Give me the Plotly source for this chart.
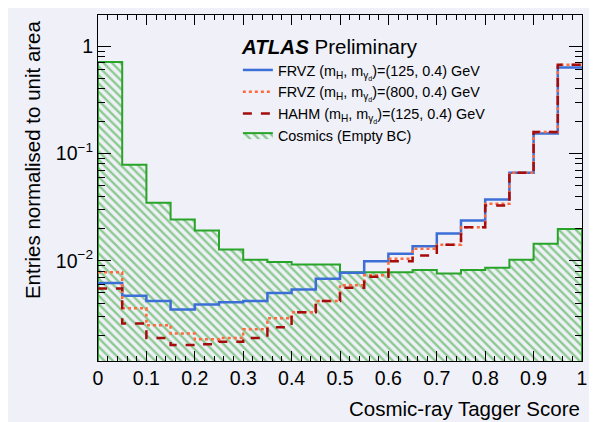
import plotly.graph_objects as go

# ---- data ----
bin_edges = [round(i * 0.05, 2) for i in range(21)]

cosmics = [0.71, 0.0784, 0.0346, 0.0242, 0.0191, 0.0127, 0.0102, 0.0097, 0.0092, 0.0092,
           0.0078, 0.0078, 0.0078, 0.0082, 0.0076, 0.0082, 0.0086, 0.0102, 0.0144, 0.0197]
frvz125 = [0.0062, 0.0047, 0.0042, 0.0035, 0.0039, 0.0041, 0.0042, 0.0050, 0.0054, 0.0068,
           0.0077, 0.0099, 0.0116, 0.0136, 0.0179, 0.0237, 0.0372, 0.0661, 0.153, 0.632]
frvz800 = [0.0078, 0.0036, 0.0025, 0.0021, 0.00185, 0.0019, 0.0023, 0.0029, 0.0033, 0.0042,
           0.0059, 0.0073, 0.0104, 0.0129, 0.0141, 0.0205, 0.0339, 0.0661, 0.158, 0.669]
hahm125 = [0.0055, 0.0026, 0.0019, 0.00164, 0.00166, 0.00176, 0.0019, 0.0024, 0.0033, 0.0042,
           0.0056, 0.0071, 0.0099, 0.0112, 0.0141, 0.0205, 0.0327, 0.0661, 0.158, 0.669]

names = [
    "FRVZ (m<sub>H</sub>, m<sub>γ<sub>d</sub></sub>)=(125, 0.4) GeV",
    "FRVZ (m<sub>H</sub>, m<sub>γ<sub>d</sub></sub>)=(800, 0.4) GeV",
    "HAHM (m<sub>H</sub>, m<sub>γ<sub>d</sub></sub>)=(125, 0.4) GeV",
    "Cosmics (Empty BC)",
]

x_tick_vals = [0, 0.1, 0.2, 0.3, 0.4, 0.5, 0.6, 0.7, 0.8, 0.9, 1]
x_tick_text = ["0", "0.1", "0.2", "0.3", "0.4", "0.5", "0.6", "0.7", "0.8", "0.9", "1"]
y_tick_vals = [0.01, 0.1, 1]
y_tick_text = ["10<sup>−2</sup>", "10<sup>−1</sup>", "1"]

# ---- style ----
FONT = "Liberation Sans, Arial, sans-serif"
BG = "#eff0f8"
GREEN = "#28a428"
BLUE = "#3c6fd6"
ORANGE = "#ff6b3f"
DARKRED = "#a50d0d"
Y_RANGE = [-2.935, 0.29]


def step_xy(values):
    return list(bin_edges), list(values) + [values[-1]]


fig = go.Figure()

# cosmics: hatched closed step polygon (drawn first, underneath)
base = 10 ** (Y_RANGE[0] - 1)
cx = [bin_edges[0]] + list(bin_edges[:-1]) + [bin_edges[-1], bin_edges[-1]]
cy = [base] + list(cosmics) + [cosmics[-1], base]
fig.add_trace(go.Scatter(x=cx, y=cy, mode="lines", fill="toself",
                         line=dict(color=GREEN, width=2, shape="hv"),
                         fillcolor="rgba(0,0,0,0)",
                         fillpattern=dict(shape="\\", fgcolor=GREEN, bgcolor="rgba(0,0,0,0)",
                                          size=6, solidity=0.4),
                         name=names[3], legendrank=4))

sx, sy = step_xy(frvz125)
fig.add_trace(go.Scatter(x=sx, y=sy, mode="lines", line=dict(color=BLUE, width=2.5, shape="hv"),
                         name=names[0], legendrank=1))
sx, sy = step_xy(frvz800)
fig.add_trace(go.Scatter(x=sx, y=sy, mode="lines",
                         line=dict(color=ORANGE, width=2.5, shape="hv", dash="dot"),
                         name=names[1], legendrank=2))
sx, sy = step_xy(hahm125)
fig.add_trace(go.Scatter(x=sx, y=sy, mode="lines",
                         line=dict(color=DARKRED, width=2.5, shape="hv", dash="dash"),
                         name=names[2], legendrank=3))

y_minor = []
for dec in (0.001, 0.01, 0.1):
    for m in range(2, 10):
        y_minor.append(round(m * dec, 6))

fig.update_layout(
    width=597, height=422,
    margin=dict(l=90, r=23, t=7, b=69),
    paper_bgcolor=BG, plot_bgcolor=BG,
    font=dict(family=FONT, size=19, color="black"),
    showlegend=True,
    legend=dict(x=0.289, y=0.887, xanchor="left", yanchor="top",
                bgcolor="rgba(0,0,0,0)", borderwidth=0, traceorder="normal",
                font=dict(family=FONT, size=14.4, color="black"),
                tracegroupgap=0, itemwidth=30),
    xaxis=dict(range=[0, 1], tickmode="array", tickvals=x_tick_vals, ticktext=x_tick_text,
               ticks="inside", ticklen=10, tickwidth=1, tickcolor="black",
               showline=True, linecolor="black", linewidth=1, mirror="allticks",
               showgrid=False, zeroline=False,
               minor=dict(dtick=0.02, ticks="inside", ticklen=5, tickcolor="black",
                          showgrid=False),
               tickfont=dict(size=19.5)),
    yaxis=dict(type="log", range=Y_RANGE, tickmode="array", tickvals=y_tick_vals,
               ticktext=y_tick_text,
               ticks="inside", ticklen=13, tickwidth=1, tickcolor="black",
               showline=True, linecolor="black", linewidth=1, mirror="allticks",
               showgrid=False, zeroline=False,
               minor=dict(tickvals=y_minor, ticks="inside", ticklen=7, tickcolor="black",
                          showgrid=False),
               tickfont=dict(size=19.5)),
    annotations=[
        dict(text="<b><i>ATLAS</i></b> Preliminary", x=0.292, y=0.91, xref="paper",
             yref="paper", xanchor="left", yanchor="middle", showarrow=False,
             font=dict(family=FONT, size=20.5)),
        dict(text="Cosmic-ray Tagger Score", x=1.0, y=-0.137, xref="paper", yref="paper",
             xanchor="right", yanchor="middle", showarrow=False,
             font=dict(family=FONT, size=20.5)),
        dict(text="Entries normalised to unit area", x=-0.134, y=0.99, xref="paper",
             yref="paper", xanchor="center", yanchor="top", textangle=-90,
             showarrow=False, font=dict(family=FONT, size=20.5)),
    ],
)

fig.write_html("out.html")
